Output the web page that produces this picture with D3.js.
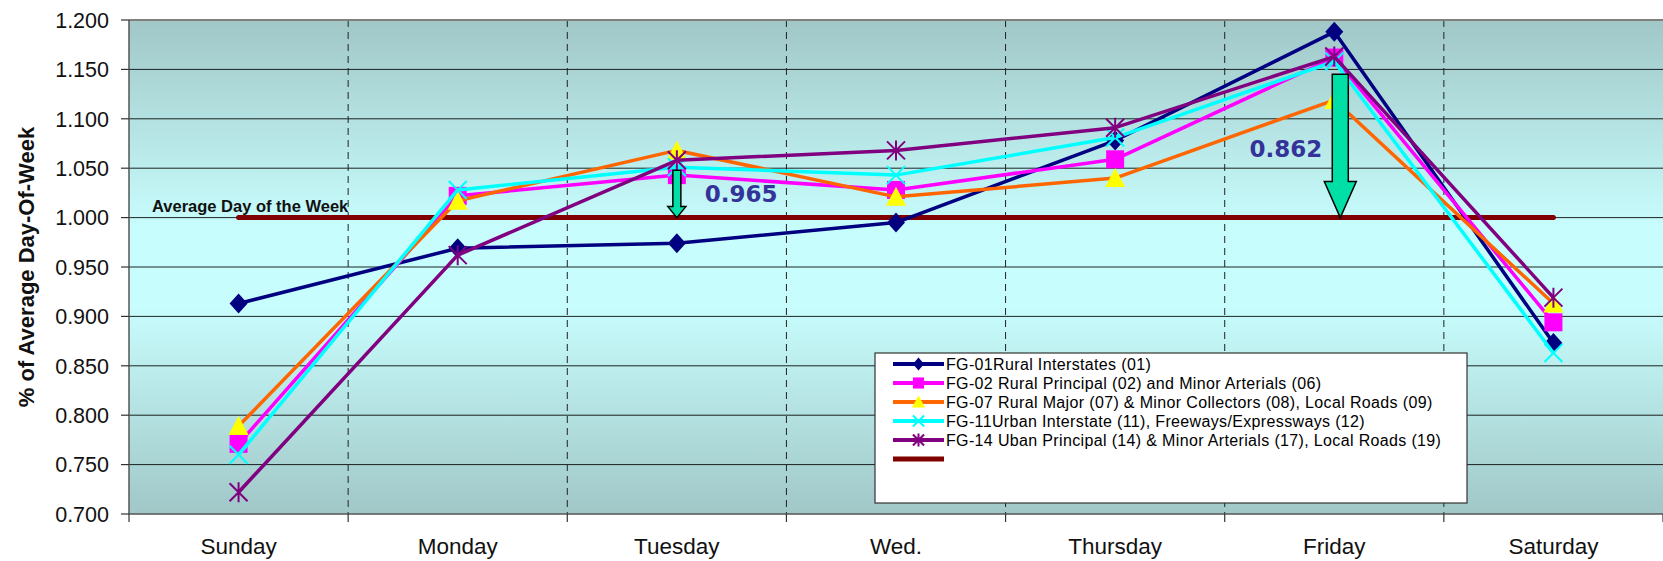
<!DOCTYPE html>
<html><head><meta charset="utf-8">
<script src="https://cdn.jsdelivr.net/npm/d3@7"></script>
<style>body{margin:0;background:#fff}svg{display:block}</style>
</head><body>
<svg id="c" width="1663" height="561"></svg>
<script>
const categories = ["Sunday","Monday","Tuesday","Wed.","Thursday","Friday","Saturday"];
const seriesNames = [
  "FG-01Rural Interstates (01)",
  "FG-02 Rural Principal (02) and Minor Arterials (06)",
  "FG-07 Rural Major (07) & Minor Collectors (08), Local Roads (09)",
  "FG-11Urban Interstate (11), Freeways/Expressways (12)",
  "FG-14 Uban Principal (14) & Minor Arterials (17), Local Roads (19)"
];
const fg01 = [0.913, 0.969, 0.974, 0.995, 1.078, 1.188, 0.873];
const fg02 = [0.771, 1.022, 1.043, 1.028, 1.059, 1.162, 0.894];
const fg07 = [0.789, 1.017, 1.068, 1.021, 1.040, 1.119, 0.913];
const fg11 = [0.760, 1.028, 1.051, 1.043, 1.081, 1.158, 0.863];
const fg14 = [0.722, 0.962, 1.058, 1.068, 1.091, 1.163, 0.919];
const averageValue = 1.0;
const averageLabel = "Average Day of the Week";
const yTicks = [0.70,0.75,0.80,0.85,0.90,0.95,1.00,1.05,1.10,1.15,1.20];
const yTitle = "% of Average Day-Of-Week";
const arrowDays = ["Tuesday","Friday"];
const arrowFrom = [1.048, 1.145];
const arrowTo = [1.0, 1.0];
const arrowLabels = ["0.965","0.862"];
const arrowLabelValues = [1.016, 1.061];

const allSeries = [fg01, fg02, fg07, fg11, fg14];
const lineColors = ["#000080","#ff00ff","#ff6600","#00ffff","#800080"];
const markerFill = ["#000080","#ff00ff","#ffff00","none","none"];
const markerStroke = ["#000080","#ff00ff","#ffff00","#00ffff","#800080"];
const markerType = ["diamond","square","triangle","x","star"];

const svg = d3.select("#c");
const L = 129, R = 1663, T = 20, B = 514;
const x = d3.scaleBand().domain(categories).range([L, R]).padding(0);
const bw = x.bandwidth();
const cx = c => x(c) + bw/2;
const y = d3.scaleLinear().domain([0.7, 1.2]).range([B, T]);

const defs = svg.append("defs");
const g = defs.append("linearGradient").attr("id","bg").attr("x1",0).attr("y1",0).attr("x2",0).attr("y2",1);
[[0,"#a1c7c7"],[0.42,"#c8fdfd"],[0.58,"#c8fdfd"],[1,"#a1c7c7"]].forEach(s=>g.append("stop").attr("offset",s[0]).attr("stop-color",s[1]));

svg.append("rect").attr("x",L).attr("y",T).attr("width",R-L).attr("height",B-T).attr("fill","url(#bg)");

// horizontal gridlines
svg.append("g").selectAll("line").data(yTicks.slice(1,-1)).join("line")
  .attr("x1",L).attr("x2",R).attr("y1",d=>y(d)).attr("y2",d=>y(d))
  .attr("stroke","#000").attr("stroke-width",1).attr("opacity",0.85);
// vertical dashed gridlines
svg.append("g").selectAll("line").data(categories.slice(1)).join("line")
  .attr("x1",d=>x(d)).attr("x2",d=>x(d)).attr("y1",T).attr("y2",B)
  .attr("stroke","#222").attr("stroke-width",1).attr("stroke-dasharray","7,5");

// borders
svg.append("line").attr("x1",L).attr("x2",R).attr("y1",T).attr("y2",T).attr("stroke","#808080").attr("stroke-width",2);
svg.append("line").attr("x1",L).attr("x2",L).attr("y1",T).attr("y2",B).attr("stroke","#555").attr("stroke-width",1.5);
svg.append("line").attr("x1",L).attr("x2",R).attr("y1",B).attr("y2",B).attr("stroke","#555").attr("stroke-width",1.5);

// y axis ticks & labels
const ya = svg.append("g");
ya.selectAll("line").data(yTicks).join("line")
  .attr("x1",L-8).attr("x2",L).attr("y1",d=>y(d)).attr("y2",d=>y(d)).attr("stroke","#333").attr("stroke-width",1.2);
ya.selectAll("text").data(yTicks).join("text")
  .attr("x",L-20).attr("y",d=>y(d)).attr("dy","0.36em").attr("text-anchor","end")
  .attr("font-family","Liberation Sans, Arial, sans-serif").attr("font-size",21.5).attr("fill","#111")
  .text(d=>d3.format(".3f")(d));
svg.append("text").attr("transform",`translate(34,${(T+B)/2}) rotate(-90)`).attr("text-anchor","middle")
  .attr("font-family","Liberation Sans, Arial, sans-serif").attr("font-size",22).attr("font-weight","bold").attr("fill","#111")
  .text(yTitle);

// x axis ticks & labels
const xa = svg.append("g");
xa.selectAll("line").data(categories.concat(["__end"])).join("line")
  .attr("x1",(d,i)=>L+i*bw).attr("x2",(d,i)=>L+i*bw).attr("y1",B).attr("y2",B+8).attr("stroke","#333").attr("stroke-width",1.2);
xa.selectAll("text").data(categories).join("text")
  .attr("x",d=>cx(d)).attr("y",554).attr("text-anchor","middle")
  .attr("font-family","Liberation Sans, Arial, sans-serif").attr("font-size",22.5).attr("fill","#111")
  .text(d=>d);

// average line
svg.append("line").attr("x1",cx(categories[0])).attr("x2",cx(categories[categories.length-1]))
  .attr("y1",y(averageValue)).attr("y2",y(averageValue)).attr("stroke","#800000").attr("stroke-width",5).attr("stroke-linecap","round");
svg.append("text").attr("x",L+23).attr("y",y(averageValue)-6)
  .attr("font-family","Liberation Sans, Arial, sans-serif").attr("font-size",16.5).attr("font-weight","bold").attr("fill","#111")
  .text(averageLabel);

function marker(sel, type, fill, stroke, s) {
  const h = 9*s;
  if (type==="diamond") sel.append("path").attr("d",`M0,${-h-1}L${h},0L0,${h+1}L${-h},0Z`).attr("fill",fill);
  else if (type==="square") sel.append("rect").attr("x",-h).attr("y",-h).attr("width",2*h).attr("height",2*h).attr("fill",fill);
  else if (type==="triangle") sel.append("path").attr("d",`M0,${-h-1}L${h+1},${h}L${-h-1},${h}Z`).attr("fill",fill);
  else if (type==="x") sel.append("path").attr("d",`M${-h},${-h}L${h},${h}M${-h},${h}L${h},${-h}`).attr("stroke",stroke).attr("stroke-width",2).attr("fill","none");
  else if (type==="star") sel.append("path").attr("d",`M${-h},${-h}L${h},${h}M${-h},${h}L${h},${-h}M0,${-h-1}L0,${h+1}`).attr("stroke",stroke).attr("stroke-width",2).attr("fill","none");
}

const line = d3.line().x((d,i)=>cx(categories[i])).y(d=>y(d));
allSeries.forEach((vals, si) => {
  const gs = svg.append("g");
  gs.append("path").attr("d",line(vals)).attr("fill","none").attr("stroke",lineColors[si]).attr("stroke-width",3.5).attr("stroke-linejoin","round");
  vals.forEach((v,i)=>{
    const m = gs.append("g").attr("transform",`translate(${cx(categories[i])},${y(v)})`);
    marker(m, markerType[si], markerFill[si], markerStroke[si], 1);
  });
});

// arrows
const arrowShaft = [4, 8], arrowHead = [9, 16], arrowHeadLen = [11, 36], arrowDx = [0, 6];
arrowDays.forEach((d,i)=>{
  const ax = cx(d) + arrowDx[i], y0 = y(arrowFrom[i]), y1 = y(arrowTo[i]);
  const s = arrowShaft[i], hw = arrowHead[i], hl = arrowHeadLen[i];
  svg.append("path").attr("d",`M${ax-s},${y0}L${ax+s},${y0}L${ax+s},${y1-hl}L${ax+hw},${y1-hl}L${ax},${y1}L${ax-hw},${y1-hl}L${ax-s},${y1-hl}Z`)
    .attr("fill","#00e0a6").attr("stroke","#000").attr("stroke-width",1.5).attr("stroke-linejoin","miter");
});
svg.append("text").attr("x",cx(arrowDays[0])+28).attr("y",y(arrowLabelValues[0]))
  .attr("font-family","DejaVu Sans, Verdana, sans-serif").attr("font-size",23).attr("font-weight","bold").attr("fill","#333399")
  .text(arrowLabels[0]);
svg.append("text").attr("x",cx(arrowDays[1])-12).attr("y",y(arrowLabelValues[1])).attr("text-anchor","end")
  .attr("font-family","DejaVu Sans, Verdana, sans-serif").attr("font-size",23).attr("font-weight","bold").attr("fill","#333399")
  .text(arrowLabels[1]);

// legend
const lg = svg.append("g");
lg.append("rect").attr("x",875).attr("y",353).attr("width",592).attr("height",150).attr("fill","#fff").attr("stroke","#333").attr("stroke-width",1.2);
const legColors = lineColors.concat(["#800000"]);
const legNames = seriesNames.concat([""]);
legNames.forEach((n,i)=>{
  const ry = 364 + i*19;
  lg.append("line").attr("x1",893).attr("x2",944).attr("y1",ry).attr("y2",ry).attr("stroke",legColors[i]).attr("stroke-width",i===5?5:4);
  if (i<5) {
    const m = lg.append("g").attr("transform",`translate(918.5,${ry})`);
    marker(m, markerType[i], markerFill[i], markerStroke[i], 0.62);
    lg.append("text").attr("x",946).attr("y",ry).attr("dy","0.36em")
      .attr("font-family","Liberation Sans, Arial, sans-serif").attr("font-size",16).attr("letter-spacing","0.35px").attr("fill","#000").text(n);
  }
});
</script>
</body></html>
